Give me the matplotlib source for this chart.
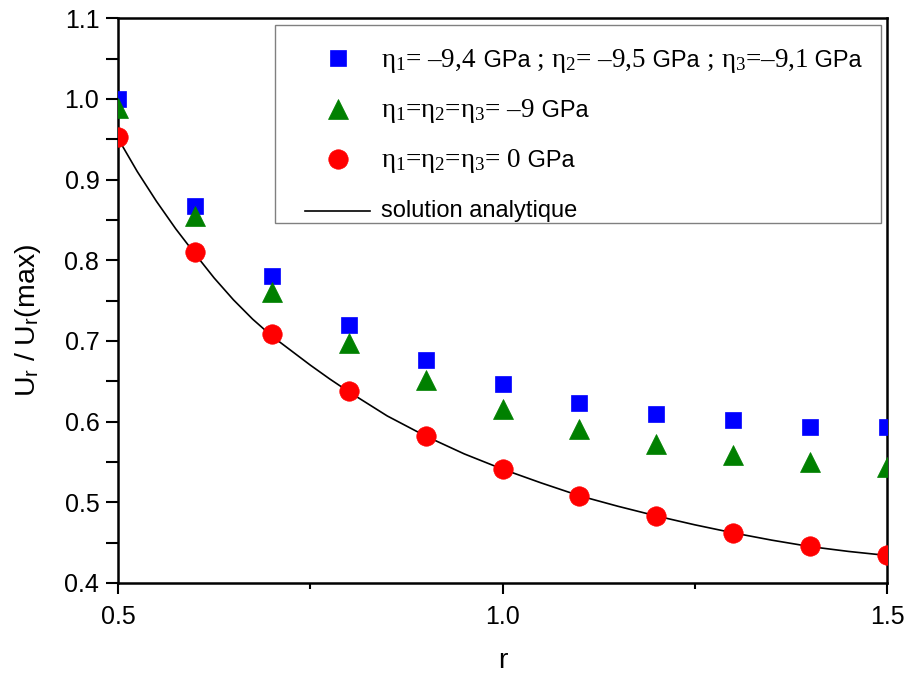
import matplotlib
matplotlib.use("Agg")
import matplotlib.pyplot as plt
from matplotlib.lines import Line2D
from matplotlib.patches import Rectangle
from matplotlib.offsetbox import AnchoredOffsetbox, DrawingArea, HPacker, TextArea, VPacker
from matplotlib.ticker import MultipleLocator

plt.rcParams["font.family"] = ["Liberation Sans", "DejaVu Sans"]
plt.rcParams["mathtext.fontset"] = "custom"
plt.rcParams["mathtext.rm"] = "Liberation Serif"
plt.rcParams["mathtext.it"] = "Liberation Serif"
plt.rcParams["mathtext.sf"] = "Liberation Sans"

# measured points
r_pts = [0.5, 0.6, 0.7, 0.8, 0.9, 1.0, 1.1, 1.2, 1.3, 1.4, 1.5]
u_eta_mixed = [1.000, 0.867, 0.780, 0.720, 0.676, 0.646, 0.623, 0.610, 0.602, 0.593, 0.593]
u_eta_m9 = [0.989, 0.855, 0.761, 0.697, 0.652, 0.616, 0.591, 0.572, 0.559, 0.550, 0.544]
u_eta_0 = [0.953, 0.810, 0.709, 0.638, 0.582, 0.541, 0.508, 0.483, 0.462, 0.446, 0.434]

# analytic solution
r_ana = [0.500, 0.525, 0.550, 0.575, 0.600, 0.625, 0.650, 0.675, 0.700, 0.725, 0.750,
         0.775, 0.800, 0.850, 0.900, 0.950, 1.000, 1.050, 1.100, 1.150, 1.200,
         1.250, 1.300, 1.350, 1.400, 1.450, 1.500]
u_ana = [0.951, 0.910, 0.873, 0.839, 0.808, 0.778, 0.751, 0.727, 0.706, 0.688, 0.670,
         0.653, 0.637, 0.607, 0.582, 0.560, 0.541, 0.524, 0.508, 0.495, 0.483,
         0.472, 0.462, 0.453, 0.445, 0.439, 0.434]

# legend pieces: (text, serif?) per row
leg_rows = [
    [(r"$\eta_1$= –9,4", True), (" GPa", False), (r" ; $\eta_2$= –9,5", True), (" GPa", False),
     (r" ; $\eta_3$=–9,1", True), (" GPa", False)],
    [(r"$\eta_1$=$\eta_2$=$\eta_3$= –9", True), (" GPa", False)],
    [(r"$\eta_1$=$\eta_2$=$\eta_3$= 0", True), (" GPa", False)],
    [("solution analytique", False)],
]

BLUE, GREEN, RED = "#0000ff", "#008000", "#ff0000"
series = [
    dict(marker="s", ms=12, color=BLUE),
    dict(marker="^", ms=15, color=GREEN),
    dict(marker="o", ms=14, color=RED),
    dict(marker=None, color="black"),
]

fig = plt.figure(figsize=(9.08, 6.77), dpi=100)
ax = fig.add_axes([0.130, 0.139, 0.847, 0.834])

for y, st in zip([u_eta_mixed, u_eta_m9, u_eta_0], series[:3]):
    ax.plot(r_pts, y, linestyle="none", marker=st["marker"], ms=st["ms"],
            color=st["color"], mec=st["color"], mew=0.5, zorder=3)
ax.plot(r_ana, u_ana, "-", color="black", lw=1.2, zorder=2)

ax.set_xlim(0.5, 1.5)
ax.set_ylim(0.4, 1.1)
ax.xaxis.set_major_locator(MultipleLocator(0.5))
ax.xaxis.set_minor_locator(MultipleLocator(0.25))
ax.yaxis.set_major_locator(MultipleLocator(0.1))
ax.yaxis.set_minor_locator(MultipleLocator(0.05))
ax.tick_params(which="both", direction="out", width=1.5, labelsize=18, top=False, right=False)
ax.tick_params(axis="x", which="major", length=8, pad=8)
ax.tick_params(axis="x", which="minor", length=4)
ax.tick_params(axis="y", which="both", length=8.5, pad=5)
for s in ax.spines.values():
    s.set_linewidth(1.8)

ax.set_xlabel("r", fontsize=20.5)
ax.set_ylabel(r"U$_\mathsf{r}$ / U$_\mathsf{r}$(max)", fontsize=20.5)
ax.xaxis.set_label_coords(0.5, -0.115)
ax.yaxis.set_label_coords(-0.097, 0.464)

# hand-built legend (serif symbols larger than the sans "GPa")
HW = 46.8  # handle width, points
rows = []
for pieces, st in zip(leg_rows, series):
    da = DrawingArea(HW, 30, 0, 9)
    if st["marker"] is None:
        da.add_artist(Line2D([0, HW], [5, 5], color="black", lw=1.2))
    else:
        da.add_artist(Line2D([HW / 2], [6], linestyle="none", marker=st["marker"], ms=st["ms"],
                             color=st["color"], mec=st["color"], mew=0.5))
    texts = []
    for txt, serif in pieces:
        props = dict(family="Liberation Serif", size=19.5) if serif else dict(family="Liberation Sans", size=17)
        texts.append(TextArea(txt, textprops=props))
    rows.append(HPacker(children=[da, HPacker(children=texts, sep=0, pad=0, align="baseline")],
                        sep=8, pad=0, align="baseline"))
box = VPacker(children=rows, sep=6.2, pad=0, align="left")
anch = AnchoredOffsetbox(loc="upper left", child=box, pad=0, borderpad=0, frameon=False,
                         bbox_to_anchor=(0.2432, 0.966), bbox_transform=ax.transAxes)
ax.add_artist(anch)
ax.add_patch(Rectangle((0.2042, 0.6372), 0.788, 0.3504, transform=ax.transAxes,
                       fill=False, edgecolor="#808080", lw=1.0, zorder=4))

fig.savefig("out.png", dpi=100)
